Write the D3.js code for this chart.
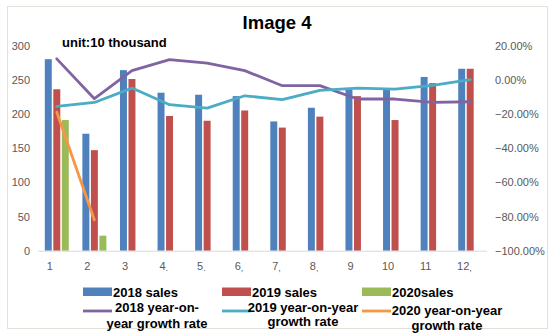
<!DOCTYPE html>
<html>
<head>
<meta charset="utf-8">
<script src="https://cdn.jsdelivr.net/npm/d3@7"></script>
<style>
  html, body { margin: 0; padding: 0; background: #ffffff; }
  svg { display: block; }
</style>
</head>
<body>
<svg id="chart" width="557" height="336"></svg>
<script>
// ---- data ----
const categories = ["1","2","3","4","5","6","7","8","9","10","11","12"];
const tickSuffix = ["","","",".",".",",",",",",","","","",","];
const sales2018 = [280, 171, 264, 231, 228, 226, 189, 209, 236, 236, 254, 266];
const sales2019 = [236, 147, 251, 197, 190, 205, 180, 196, 226, 191, 245, 266];
const sales2020 = [191, 22, null, null, null, null, null, null, null, null, null, null];
const yoy2018 = [12.2, -11.1, 5.3, 11.7, 9.7, 5.3, -3.5, -3.5, -11.3, -11.3, -13.3, -12.9];
const yoy2019 = [-15.6, -13.3, -4.9, -14.6, -16.6, -9.4, -11.7, -6.2, -4.9, -5.5, -3.3, 0.0];
const yoy2020 = [-19.0, -82.0, null, null, null, null, null, null, null, null, null, null];
const leftTicks = [0, 50, 100, 150, 200, 250, 300];
const rightTicks = [-100, -80, -60, -40, -20, 0, 20];

const barSeries = [
  { name: "2018 sales", values: sales2018, color: "#4f81bd" },
  { name: "2019 sales", values: sales2019, color: "#c0504d" },
  { name: "2020sales", values: sales2020, color: "#9bbb59" }
];
const lineSeries = [
  { name: ["2018 year-on-", "year growth rate"], values: yoy2018, color: "#8064a2" },
  { name: ["2019 year-on-year", "growth rate"], values: yoy2019, color: "#4bacc6" },
  { name: ["2020 year-on-year", "growth rate"], values: yoy2020, color: "#f79646" }
];

const svg = d3.select("#chart");
const font = "'Liberation Sans', Arial, sans-serif";

// chart border
svg.append("rect").attr("x", 7.5).attr("y", 6.5).attr("width", 540).attr("height", 322)
  .attr("fill", "#fff").attr("stroke", "#e2e2da").attr("stroke-width", 1);

const plot = { left: 38, right: 489, top: 45.5, bottom: 250.7 };

const x0 = d3.scaleBand().domain(categories).range([plot.left, plot.right]).paddingInner(0).paddingOuter(0);
const x1 = d3.scaleBand().domain(barSeries.map(d => d.name)).range([0, x0.bandwidth()])
  .paddingInner(0.18).paddingOuter(0.8);
const yL = d3.scaleLinear().domain([0, 300]).range([plot.bottom, plot.top]);
const yR = d3.scaleLinear().domain([-100, 20]).range([plot.bottom, plot.top]);

// title
svg.append("text").attr("x", 277).attr("y", 29).attr("text-anchor", "middle")
  .attr("font-family", font).attr("font-weight", "bold").attr("font-size", 18.5)
  .attr("fill", "#000").text("Image 4");
svg.append("text").attr("x", 62).attr("y", 47).attr("font-family", font)
  .attr("font-weight", "bold").attr("font-size", 13).attr("fill", "#000").text("unit:10 thousand");

// left axis
const axL = d3.axisLeft(yL).tickValues(leftTicks).tickSize(0).tickPadding(8);
const gL = svg.append("g").attr("transform", `translate(${plot.left},0)`).call(axL);
gL.select(".domain").remove();
gL.selectAll("text").attr("font-family", font).attr("font-size", 11).attr("fill", "#595959");

// right axis
const axR = d3.axisRight(yR).tickValues(rightTicks).tickSize(0).tickPadding(6)
  .tickFormat(d => d3.format(".2f")(d) + "%");
const gR = svg.append("g").attr("transform", `translate(${plot.right},0)`).call(axR);
gR.select(".domain").remove();
gR.selectAll("text").attr("font-family", font).attr("font-size", 11).attr("fill", "#595959");

// bars
barSeries.forEach(s => {
  svg.append("g").selectAll("rect")
    .data(categories.map((c, i) => ({ c, v: s.values[i] })).filter(d => d.v != null))
    .join("rect")
    .attr("x", d => x0(d.c) + x1(s.name))
    .attr("width", x1.bandwidth())
    .attr("y", d => yL(d.v))
    .attr("height", d => yL(0) - yL(d.v))
    .attr("fill", s.color);
});

// x axis
const axX = d3.axisBottom(x0).tickSize(0).tickPadding(10).tickFormat(() => "");
const gX = svg.append("g").attr("transform", `translate(0,${plot.bottom})`).call(axX);
gX.select(".domain").attr("stroke", "#d9d9d9").attr("d", `M${plot.left},0.5H${plot.right - 2}`);
categories.forEach((c, i) => {
  const cx = x0(c) + x0.bandwidth() / 2 - 7;
  const t = svg.append("text").attr("x", cx).attr("y", 270).attr("text-anchor", "middle")
    .attr("font-family", font).attr("font-size", 11).attr("fill", "#595959").text(c);
  if (tickSuffix[i]) {
    const w = t.node().getComputedTextLength();
    svg.append("text").attr("x", cx + w / 2).attr("y", 271).attr("font-family", font)
      .attr("font-size", 9).attr("fill", "#595959").text(tickSuffix[i]);
  }
});

// lines
lineSeries.forEach(s => {
  const line = d3.line()
    .defined(d => d.v != null)
    .x(d => x0(d.c) + x0.bandwidth() / 2)
    .y(d => yR(d.v));
  svg.append("path")
    .datum(categories.map((c, i) => ({ c, v: s.values[i] })))
    .attr("d", line).attr("fill", "none").attr("stroke", s.color)
    .attr("stroke-width", 2.8).attr("stroke-linejoin", "round").attr("stroke-linecap", "round");
});

// legend
const lf = { "font-family": font, "font-weight": "bold", "font-size": 13, "fill": "#000" };
function txt(x, y, s, anchor) {
  const t = svg.append("text").attr("x", x).attr("y", y).attr("text-anchor", anchor || "start").text(s);
  Object.entries(lf).forEach(([k, v]) => t.attr(k, v));
}
const legX = [83, 222, 362];
barSeries.forEach((s, i) => {
  svg.append("rect").attr("x", legX[i]).attr("y", 287.5).attr("width", 29).attr("height", 8.5).attr("fill", s.color);
  txt(legX[i] + 30, 296.5, s.name);
});
lineSeries.forEach((s, i) => {
  svg.append("line").attr("x1", legX[i]).attr("x2", legX[i] + 29).attr("y1", 311).attr("y2", 311)
    .attr("stroke", s.color).attr("stroke-width", 2.8);
});
txt(157, 312, lineSeries[0].name[0], "middle");
txt(157, 327.5, lineSeries[0].name[1], "middle");
txt(303, 311.5, lineSeries[1].name[0], "middle");
txt(303, 325.5, lineSeries[1].name[1], "middle");
txt(447, 315, lineSeries[2].name[0], "middle");
txt(447, 329.5, lineSeries[2].name[1], "middle");
</script>
</body>
</html>
